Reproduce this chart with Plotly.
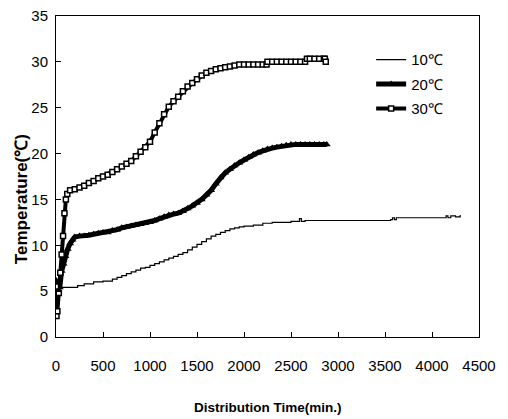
import plotly.graph_objects as go

# ---- data ----
t30 = [0, 5, 15, 30, 45, 60, 75, 90, 105, 120, 150, 200, 250, 300, 350, 400, 450, 500,
       550, 600, 650, 700, 750, 800, 850, 900, 950, 1000, 1050, 1100, 1150, 1200, 1250,
       1300, 1350, 1400, 1450, 1500, 1550, 1600, 1650, 1700, 1750, 1800, 1850, 1900,
       1950, 2000, 2050, 2100, 2150, 2200, 2240, 2250, 2300, 2350, 2400, 2450, 2500,
       2550, 2600, 2650, 2670, 2700, 2750, 2800, 2850, 2860, 2870]
v30 = [5.5, 2.3, 2.8, 4.8, 7.0, 9.0, 11.0, 13.5, 15.0, 15.6, 16.0, 16.1, 16.3, 16.5, 16.8,
       17.0, 17.3, 17.5, 17.7, 18.0, 18.3, 18.6, 18.9, 19.2, 19.7, 20.2, 20.7, 21.3, 22.3,
       23.3, 24.3, 25.1, 25.7, 26.2, 26.8, 27.3, 27.7, 28.1, 28.5, 28.8, 29.0, 29.2, 29.3,
       29.4, 29.5, 29.6, 29.7, 29.7, 29.7, 29.7, 29.7, 29.7, 29.7, 30.0, 30.0, 30.0, 30.0,
       30.0, 30.0, 30.0, 30.0, 30.0, 30.35, 30.35, 30.35, 30.35, 30.35, 30.35, 30.0]

t20 = [0, 20, 40, 60, 80, 100, 125, 150, 175, 200, 250, 300, 350, 400, 450, 500, 550, 600,
       650, 700, 750, 800, 850, 900, 950, 1000, 1050, 1100, 1150, 1200, 1250, 1300, 1350,
       1400, 1450, 1500, 1550, 1600, 1650, 1700, 1750, 1800, 1850, 1900, 1950, 2000, 2050,
       2100, 2150, 2200, 2250, 2300, 2350, 2400, 2450, 2500, 2550, 2600, 2650, 2700, 2750,
       2800, 2850, 2880]
v20 = [6.2, 5.6, 5.4, 7.2, 8.0, 8.8, 9.6, 10.2, 10.6, 10.9, 11.0, 11.0, 11.1, 11.2, 11.3,
       11.4, 11.4, 11.6, 11.7, 11.9, 12.0, 12.1, 12.2, 12.3, 12.4, 12.5, 12.7, 12.9, 13.1,
       13.3, 13.4, 13.5, 13.7, 14.0, 14.3, 14.6, 15.0, 15.5, 16.0, 16.7, 17.4, 17.9, 18.3,
       18.7, 19.0, 19.3, 19.6, 19.9, 20.1, 20.3, 20.5, 20.6, 20.7, 20.8, 20.9, 21.0, 21.0,
       21.0, 21.0, 21.0, 21.0, 21.0, 21.0, 21.0]

t10 = [0, 10, 230, 300, 400, 500, 600, 650, 700, 750, 800, 850, 900, 950, 1000, 1050, 1100,
       1150, 1200, 1250, 1300, 1350, 1400, 1450, 1500, 1550, 1600, 1650, 1700, 1750, 1800,
       1850, 1900, 1950, 2000, 2100, 2200, 2300, 2500, 2590, 2610, 2650, 3560, 3580, 3600,
       3620, 3650, 4150, 4170, 4200, 4250, 4300]
v10 = [6.0, 5.4, 5.6, 5.8, 6.0, 6.1, 6.3, 6.5, 6.7, 6.9, 7.1, 7.3, 7.5, 7.6, 7.8, 8.0, 8.2,
       8.4, 8.6, 8.8, 9.0, 9.2, 9.5, 9.8, 10.1, 10.4, 10.7, 11.0, 11.2, 11.4, 11.6, 11.8,
       11.9, 12.0, 12.1, 12.2, 12.4, 12.5, 12.6, 12.9, 12.6, 12.7, 12.8, 13.0, 12.8, 13.0,
       13.0, 13.2, 13.0, 13.2, 13.1, 13.3]

x_ticks = [0, 500, 1000, 1500, 2000, 2500, 3000, 3500, 4000, 4500]
y_ticks = [0, 5, 10, 15, 20, 25, 30, 35]
names = ["10℃", "20℃", "30℃"]

NARROW = "Liberation Sans Narrow, Arial Narrow, Liberation Sans"

fig = go.Figure()
fig.add_trace(go.Scatter(x=t10, y=v10, name=names[0], mode="lines", line_shape="hv",
                         legendgroup="a", line=dict(color="black", width=1.2)))
fig.add_trace(go.Scatter(x=t20, y=v20, name=names[1], mode="lines+markers",
                         legendgroup="b", line=dict(color="black", width=5),
                         marker=dict(symbol="triangle-up", size=7, color="black")))
fig.add_trace(go.Scatter(x=t30, y=v30, name=names[2], mode="lines+markers",
                         legendgroup="c", line=dict(color="black", width=4),
                         marker=dict(symbol="square", size=5, color="white",
                                     line=dict(color="black", width=1.5))))

# page has an 8px body margin, so the figure is 8px smaller and margins shifted
fig.update_layout(
    width=500, height=411,
    margin=dict(l=48, r=29, t=8, b=82, autoexpand=False),
    paper_bgcolor="white", plot_bgcolor="white",
    font=dict(family="Liberation Sans, Arial, sans-serif", color="black", size=15),
    showlegend=True,
    legend=dict(x=0.745, y=0.915, xanchor="left", yanchor="top",
                bgcolor="rgba(0,0,0,0)", font=dict(size=15, family=NARROW),
                itemwidth=30, tracegroupgap=2),
)
fig.update_xaxes(range=[0, 4500], tickvals=x_ticks, ticktext=[str(v) for v in x_ticks],
                 showgrid=False, zeroline=False, showline=True, linecolor="black",
                 linewidth=1, mirror=True, ticks="inside", ticklen=5, tickcolor="black",
                 ticklabelstandoff=15, automargin=False, ticklabeloverflow="allow",
                 tickfont=dict(size=15, family=NARROW))
fig.update_yaxes(range=[0, 35], tickvals=y_ticks, showgrid=False, zeroline=False,
                 showline=True, linecolor="black", linewidth=1, mirror=True,
                 ticks="inside", ticklen=5, tickcolor="black", ticklabelstandoff=4,
                 automargin=False, ticklabeloverflow="allow", tickfont=dict(size=15))

fig.add_annotation(text="Temperature(℃)", xref="paper", yref="paper", x=-0.08, y=0.43,
                   textangle=-90, showarrow=False, xanchor="center", yanchor="middle",
                   font=dict(size=17, family="Liberation Sans, Arial", weight="bold"))
fig.add_annotation(text="Distribution Time(min.)", xref="paper", yref="paper", x=0.5,
                   y=-0.22, showarrow=False, xanchor="center", yanchor="middle",
                   font=dict(size=13.5, family=NARROW, weight="bold"))

fig.write_html("out.html")
